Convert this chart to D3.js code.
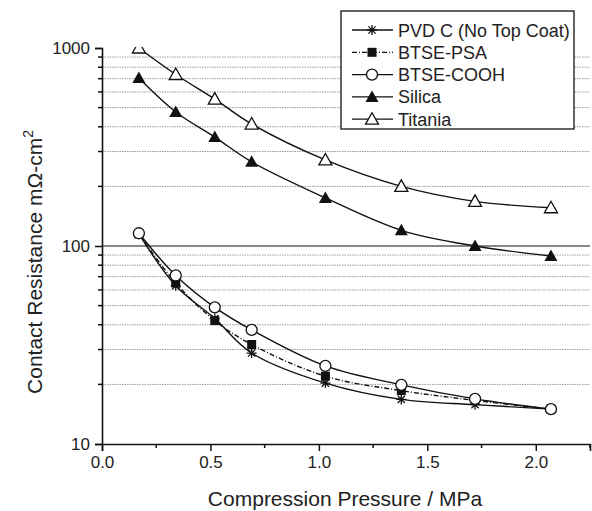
<!DOCTYPE html>
<html>
<head>
<meta charset="utf-8">
<script src="https://cdn.jsdelivr.net/npm/d3@7/dist/d3.min.js"></script>
<style>
  body { margin: 0; background: #fff; }
  svg { display: block; font-family: "Liberation Sans", Arial, sans-serif; }
</style>
</head>
<body>
<svg id="chart"></svg>
<script>
// pressure in MPa (25..300 psi)
const pressure = [0.17, 0.34, 0.52, 0.69, 1.03, 1.38, 1.72, 2.07];

const seriesNames = ["PVD C (No Top Coat)", "BTSE-PSA", "BTSE-COOH", "Silica", "Titania"];
const pvdC     = [115, 63, 43, 28.8, 20.3, 16.8, 15.8, 15];
const btsePsa  = [115, 65, 42, 31.8, 22, 18.6, 16.6, 15];
const btseCooh = [116, 71, 49, 37.7, 24.8, 19.9, 16.9, 15];
const silica   = [705, 475, 355, 266, 175, 120, 100, 89];
const titania  = [1000, 735, 552, 413, 272, 200, 168, 156];

const xTicks = [0, 0.5, 1.0, 1.5, 2.0];
const yTicks = [10, 100, 1000];

const W = 592, H = 511;
const margin = {left: 102, right: 2, top: 48, bottom: 67};

const svg = d3.select("#chart").attr("width", W).attr("height", H);

const x = d3.scaleLinear().domain([0, 2.25]).range([margin.left, W - margin.right]);
const y = d3.scaleLog().domain([10, 1000]).range([H - margin.bottom, margin.top]);

// minor values for gridlines
const minors = [];
[10, 100].forEach(dec => { for (let k = 2; k <= 9; k++) minors.push(dec * k); });

// grid
svg.append("g")
  .selectAll("line")
  .data(minors)
  .join("line")
  .attr("x1", x(0)).attr("x2", x(2.25))
  .attr("y1", d => y(d)).attr("y2", d => y(d))
  .attr("stroke", "#999")
  .attr("stroke-width", 1)
  .attr("stroke-dasharray", "1.5,1");

svg.append("line")
  .attr("x1", x(0)).attr("x2", x(2.25))
  .attr("y1", y(100)).attr("y2", y(100))
  .attr("stroke", "#111").attr("stroke-width", 1.2);

// axes
const axisX = d3.axisBottom(x).tickValues(xTicks).tickFormat(d3.format(".1f")).tickSize(7).tickPadding(5);
const gx = svg.append("g").attr("transform", `translate(0,${y(10)})`).call(axisX);
gx.append("g").selectAll("line")
  .data([0.25, 0.75, 1.25, 1.75, 2.25])
  .join("line")
  .attr("x1", d => x(d)).attr("x2", d => x(d))
  .attr("y1", 0).attr("y2", 4)
  .attr("stroke", "#111").attr("stroke-width", 1.5);

const axisY = d3.axisLeft(y).tickValues(yTicks).tickFormat(d3.format("d")).tickSize(7).tickPadding(5);
const gy = svg.append("g").attr("transform", `translate(${x(0)},0)`).call(axisY);
gy.append("g").selectAll("line")
  .data(minors)
  .join("line")
  .attr("x1", -4).attr("x2", 0)
  .attr("y1", d => y(d)).attr("y2", d => y(d))
  .attr("stroke", "#111").attr("stroke-width", 1.5);

[gx, gy].forEach(g => {
  g.select(".domain").attr("stroke", "#111").attr("stroke-width", 1.6);
  g.selectAll(".tick line").attr("stroke", "#111").attr("stroke-width", 1.5);
  g.selectAll(".tick text").attr("font-size", "17px").attr("fill", "#222")
    .attr("font-family", "'Liberation Sans', Arial, sans-serif");
});

// axis titles
svg.append("text")
  .attr("x", 345).attr("y", 506)
  .attr("text-anchor", "middle")
  .attr("font-size", "21px").attr("fill", "#222")
  .text("Compression Pressure / MPa");

const yl = svg.append("text")
  .attr("transform", `translate(42,262) rotate(-90)`)
  .attr("text-anchor", "middle")
  .attr("font-size", "21px").attr("fill", "#222");
yl.append("tspan").text("Contact Resistance m\u03A9-cm");
yl.append("tspan").attr("font-size", "14px").attr("dy", -9).text("2");

// clip for plot area (top marker gets cut like in the original)
svg.append("clipPath").attr("id", "plotclip")
  .append("rect").attr("x", x(0)).attr("y", y(1000) - 1)
  .attr("width", x(2.25) - x(0)).attr("height", y(10) - y(1000) + 1);

const series = [
  {name: seriesNames[0], values: pvdC, marker: "star", dash: null},
  {name: seriesNames[1], values: btsePsa, marker: "square", dash: "5,2,1,2"},
  {name: seriesNames[2], values: btseCooh, marker: "circle", dash: null},
  {name: seriesNames[3], values: silica, marker: "triFill", dash: null},
  {name: seriesNames[4], values: titania, marker: "triOpen", dash: null}
];

function drawMarker(g, type) {
  if (type === "star") {
    g.append("path")
      .attr("d", "M-5,0H5M0,-5V5M-3.6,-3.6L3.6,3.6M-3.6,3.6L3.6,-3.6")
      .attr("stroke", "#111").attr("stroke-width", 1.3).attr("fill", "none");
  } else if (type === "square") {
    g.append("rect").attr("x", -4.5).attr("y", -4.5).attr("width", 9).attr("height", 9)
      .attr("fill", "#111");
  } else if (type === "circle") {
    g.append("circle").attr("r", 5.5).attr("fill", "#fff")
      .attr("stroke", "#111").attr("stroke-width", 1.3);
  } else if (type === "triFill") {
    g.append("path").attr("d", "M0,-6.5L6.5,5L-6.5,5Z").attr("fill", "#111");
  } else {
    g.append("path").attr("d", "M0,-6.5L6.5,5L-6.5,5Z").attr("fill", "#fff")
      .attr("stroke", "#111").attr("stroke-width", 1.3);
  }
}

const line = d3.line()
  .x((d, i) => x(pressure[i]))
  .y(d => y(d))
  .curve(d3.curveCatmullRom);

const plot = svg.append("g").attr("clip-path", "url(#plotclip)");

series.forEach(s => {
  plot.append("path")
    .datum(s.values)
    .attr("fill", "none")
    .attr("stroke", "#111")
    .attr("stroke-width", 1.4)
    .attr("stroke-dasharray", s.dash)
    .attr("d", line);
});

series.forEach(s => {
  s.values.forEach((v, i) => {
    const g = plot.append("g").attr("transform", `translate(${x(pressure[i])},${y(v)})`);
    drawMarker(g, s.marker);
  });
});

// legend
const lg = svg.append("g").attr("transform", "translate(341,11)");
lg.append("rect")
  .attr("width", 233).attr("height", 118)
  .attr("fill", "#fff").attr("stroke", "#111").attr("stroke-width", 1.3);

series.forEach((s, i) => {
  const row = lg.append("g").attr("transform", `translate(0,${19 + i * 22.3})`);
  row.append("line")
    .attr("x1", 11).attr("x2", 52)
    .attr("stroke", "#111").attr("stroke-width", 1.3)
    .attr("stroke-dasharray", s.dash);
  const m = row.append("g").attr("transform", "translate(31,0)");
  drawMarker(m, s.marker);
  row.append("text")
    .attr("x", 57).attr("y", 6.5)
    .attr("font-size", "18px").attr("fill", "#222")
    .text(s.name);
});
</script>
</body>
</html>
